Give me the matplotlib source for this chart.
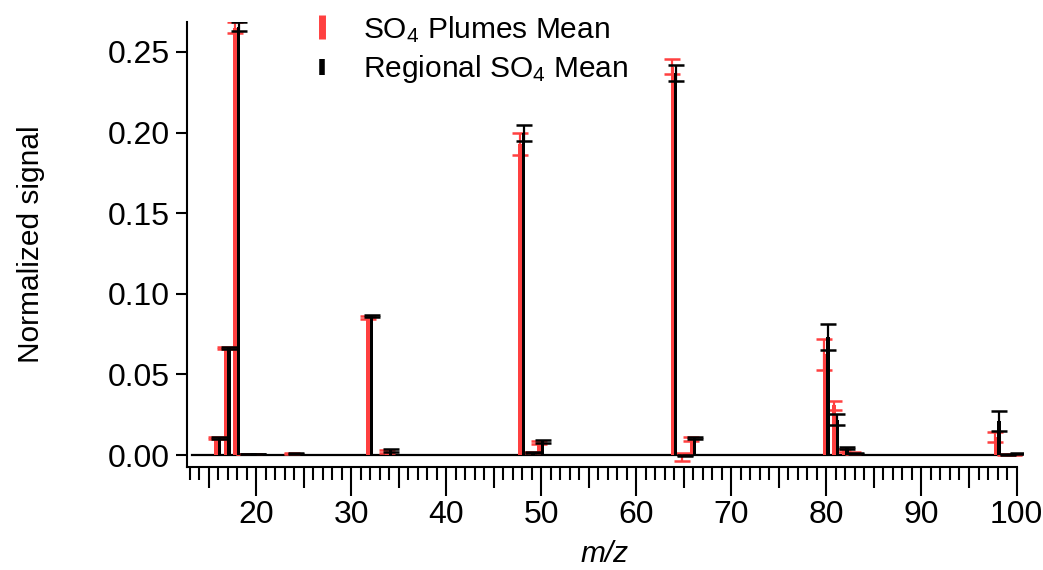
import matplotlib
matplotlib.use("Agg")
import matplotlib.pyplot as plt
from matplotlib.lines import Line2D
from matplotlib.ticker import MultipleLocator
import numpy as np

plt.rcParams['font.family'] = ['Liberation Sans', 'DejaVu Sans']
plt.rcParams['mathtext.fontset'] = 'custom'
plt.rcParams['mathtext.rm'] = 'Liberation Sans'
plt.rcParams['mathtext.it'] = 'Liberation Sans:italic'

mz = [16, 17, 18, 19, 20, 24, 32, 34, 48, 49, 50, 64, 65, 66, 80, 81, 82, 83, 98, 99, 100]
plume_mean = [0.0105, 0.0665, 0.2650, 0.0005, 0.0004, 0.0008, 0.0855, 0.0020, 0.1930, 0.0015, 0.0080,
              0.2410, -0.0012, 0.0100, 0.0625, 0.0308, 0.0030, 0.0012, 0.0112, 0.0003, 0.0006]
plume_err = [0.0005, 0.0005, 0.0033, 0.0, 0.0, 0.0003, 0.0008, 0.0010, 0.0070, 0.0005, 0.0010,
             0.0047, 0.0025, 0.0010, 0.0095, 0.0030, 0.0010, 0.0005, 0.0030, 0.0003, 0.0003]
regional_mean = [0.0105, 0.0665, 0.2657, 0.0005, 0.0004, 0.0010, 0.0862, 0.0030, 0.2000, 0.0015, 0.0085,
                 0.2370, -0.0005, 0.0108, 0.0730, 0.0220, 0.0043, 0.0010, 0.0210, 0.0006, 0.0012]
regional_err = [0.0005, 0.0005, 0.0026, 0.0, 0.0, 0.0003, 0.0005, 0.0008, 0.0050, 0.0005, 0.0008,
                0.0050, 0.0003, 0.0006, 0.0080, 0.0034, 0.0005, 0.0003, 0.0062, 0.0003, 0.0003]

RED = '#ff4040'
FS_TICK = 23
FS = 21.5
mz_a = np.array(mz, dtype=float)

fig = plt.figure(figsize=(10.43, 5.70), dpi=100)
ax = fig.add_axes([0.179, 0.1807, 0.802, 0.7807])

off_r, off_b, w = -0.22, 0.15, 0.36
ax.axhline(0, color='black', lw=1.6, xmin=0.006, zorder=1)
ax.bar(mz_a + off_r, plume_mean, width=w, color=RED, zorder=2)
ax.errorbar(mz_a + off_r, plume_mean, yerr=plume_err, fmt='none', ecolor=RED,
            elinewidth=1.6, capsize=5.5, capthick=1.8, zorder=3)
ax.bar(mz_a + off_b, regional_mean, width=w, color='black', zorder=4)
ax.errorbar(mz_a + off_b, regional_mean, yerr=regional_err, fmt='none', ecolor='black',
            elinewidth=1.6, capsize=5.5, capthick=1.8, zorder=5)

ax.set_xlim(12.7, 100.7)
ax.set_ylim(-0.0074, 0.2686)
for s in ['top', 'right']:
    ax.spines[s].set_visible(False)
for s in ['left', 'bottom']:
    ax.spines[s].set_linewidth(1.5)
ax.spines['bottom'].set_bounds(12.7, 100)

ax.xaxis.set_major_locator(MultipleLocator(10))
ax.tick_params(axis='x', which='major', length=21, width=1.5, direction='out', labelsize=FS_TICK, pad=3)
ax.tick_params(axis='x', which='minor', length=9, width=1.5, direction='out')
ax.tick_params(axis='y', which='major', length=8, width=1.5, direction='out', labelsize=FS_TICK, pad=4)
ax.set_yticks(np.arange(0, 0.26, 0.05))
ax.set_yticklabels([f'{v:.2f}' for v in np.arange(0, 0.26, 0.05)])
minor_all = [m for m in range(13, 101) if m % 10 != 0]
ax.set_xticks(minor_all, minor=True)
for t, loc in zip(ax.xaxis.get_minor_ticks(), minor_all):
    if loc % 5 == 0:
        t.tick1line.set_markersize(15)

ax.set_xlabel('m/z', fontsize=FS, style='italic')
ax.xaxis.set_label_coords(0.5, -0.165)
ax.set_ylabel('Normalized signal', fontsize=FS)
ax.yaxis.set_label_coords(-0.169, 0.5)

handles = [Line2D([], [], color=RED, marker='|', ls='none', markersize=17, mew=5),
           Line2D([], [], color='black', marker='|', ls='none', markersize=11, mew=4)]
ax.legend(handles, ['SO$_4$ Plumes Mean', 'Regional SO$_4$ Mean'], loc='upper left',
          bbox_to_anchor=(0.112, 1.079), frameon=False, fontsize=FS, handlelength=1.0,
          handletextpad=0.85, labelspacing=0.3)

fig.savefig('out.png', dpi=100)
